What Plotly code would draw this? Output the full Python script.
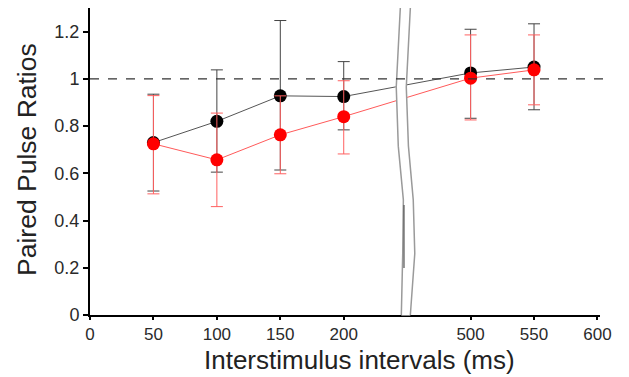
import plotly.graph_objects as go

# ---- data ----
intervals = [50, 100, 150, 200, 500, 550]
black_mean = [0.73, 0.82, 0.928, 0.925, 1.025, 1.05]
black_hi = [0.935, 1.038, 1.247, 1.073, 1.21, 1.233]
black_lo = [0.525, 0.605, 0.614, 0.784, 0.833, 0.869]
red_mean = [0.725, 0.657, 0.763, 0.84, 1.003, 1.038]
red_hi = [0.929, 0.855, 0.928, 0.992, 1.186, 1.186]
red_lo = [0.513, 0.459, 0.598, 0.682, 0.826, 0.89]

tick_values = [0, 50, 100, 150, 200, 500, 550, 600]
tick_labels = ["0", "50", "100", "150", "200", "500", "550", "600"]

x_title = "Interstimulus intervals (ms)"
y_title = "Paired Pulse Ratios"

# broken axis: values >= 500 are shifted left by 200 units
GAP_START, GAP_SHIFT = 300, 200


def disp(v):
    return v - GAP_SHIFT if v > GAP_START else v


xd = [disp(v) for v in intervals]
tick_disp = [disp(v) for v in tick_values]

fig = go.Figure()


def add_series(mean, hi, lo, line_col, marker_col, err_col):
    fig.add_trace(go.Scatter(
        x=xd, y=mean, mode="lines+markers",
        line=dict(color=line_col, width=1),
        marker=dict(color=marker_col, size=13),
        error_y=dict(type="data", symmetric=False,
                     array=[h - m for h, m in zip(hi, mean)],
                     arrayminus=[m - l for m, l in zip(mean, lo)],
                     color=err_col, thickness=1, width=6),
        showlegend=False,
    ))


add_series(black_mean, black_hi, black_lo, "#555555", "#000000", "#444444")
add_series(red_mean, red_hi, red_lo, "#ff5a5a", "#ff0000", "#ff6060")

# axis break symbol (white band with two wavy gray lines)
left_pts = [(244.6, 1.0), (241.4, 0.743), (243.0, 0.55), (247.0, 0.375), (246.5, 0.2), (245.4, 0.0)]
right_pts = [(252.5, 1.0), (249.3, 0.743), (251.0, 0.55), (254.8, 0.375), (256.0, 0.2), (252.5, 0.0)]


def path(pts):
    return "M " + " L ".join(f"{x},{y}" for x, y in pts)


fill_path = path(left_pts + right_pts[::-1]) + " Z"
shapes = [
    dict(type="path", xref="x", yref="paper", path=fill_path,
         fillcolor="white", line=dict(color="white", width=1), layer="above"),
    dict(type="path", xref="x", yref="paper", path=path(left_pts),
         line=dict(color="#9a9a9a", width=1.5), layer="above"),
    dict(type="path", xref="x", yref="paper", path=path(right_pts),
         line=dict(color="#9a9a9a", width=1.5), layer="above"),
    dict(type="line", xref="x", yref="paper", x0=247.5, x1=247.5, y0=0.153, y1=0.358,
         line=dict(color="#555555", width=1.2), layer="above"),
    dict(type="line", xref="paper", yref="y", x0=0, x1=1.015, y0=1, y1=1,
         line=dict(color="#333333", width=1.2, dash="dash"), layer="above"),
]

font_family = "Liberation Sans, Arial, sans-serif"

annotations = [
    dict(text=x_title, xref="paper", yref="paper", x=0.529, y=-0.146,
         xanchor="center", yanchor="middle", showarrow=False,
         font=dict(size=26, color="#222222")),
    dict(text=y_title, xref="paper", yref="paper", x=-0.1235, y=0.505,
         xanchor="center", yanchor="middle", showarrow=False, textangle=-90,
         font=dict(size=26.5, color="#222222")),
]

fig.update_layout(
    width=629, height=377,
    margin=dict(l=90, r=29, t=8, b=62),
    paper_bgcolor="white", plot_bgcolor="white",
    font=dict(family=font_family, color="#333333"),
    shapes=shapes, annotations=annotations,
    xaxis=dict(
        range=[0, 402], tickmode="array", tickvals=tick_disp, ticktext=tick_labels,
        showgrid=False, zeroline=False, showline=True, linecolor="black", linewidth=2,
        ticks="outside", ticklen=3, tickwidth=1.5, tickcolor="black",
        tickfont=dict(size=17, color="#2a2a2a"), automargin=False,
    ),
    yaxis=dict(
        range=[0, 1.30], tickvals=[0, 0.2, 0.4, 0.6, 0.8, 1, 1.2],
        ticktext=["0", "0.2", "0.4", "0.6", "0.8", "1", "1.2"],
        showgrid=False, zeroline=False, showline=True, linecolor="black", linewidth=2,
        ticks="outside", ticklen=5, tickwidth=1.5, tickcolor="black",
        tickfont=dict(size=18, color="#2a2a2a"), automargin=False,
    ),
)

fig.write_html("out.html", config={"displayModeBar": False},
               post_script="document.body.style.margin='0';")
